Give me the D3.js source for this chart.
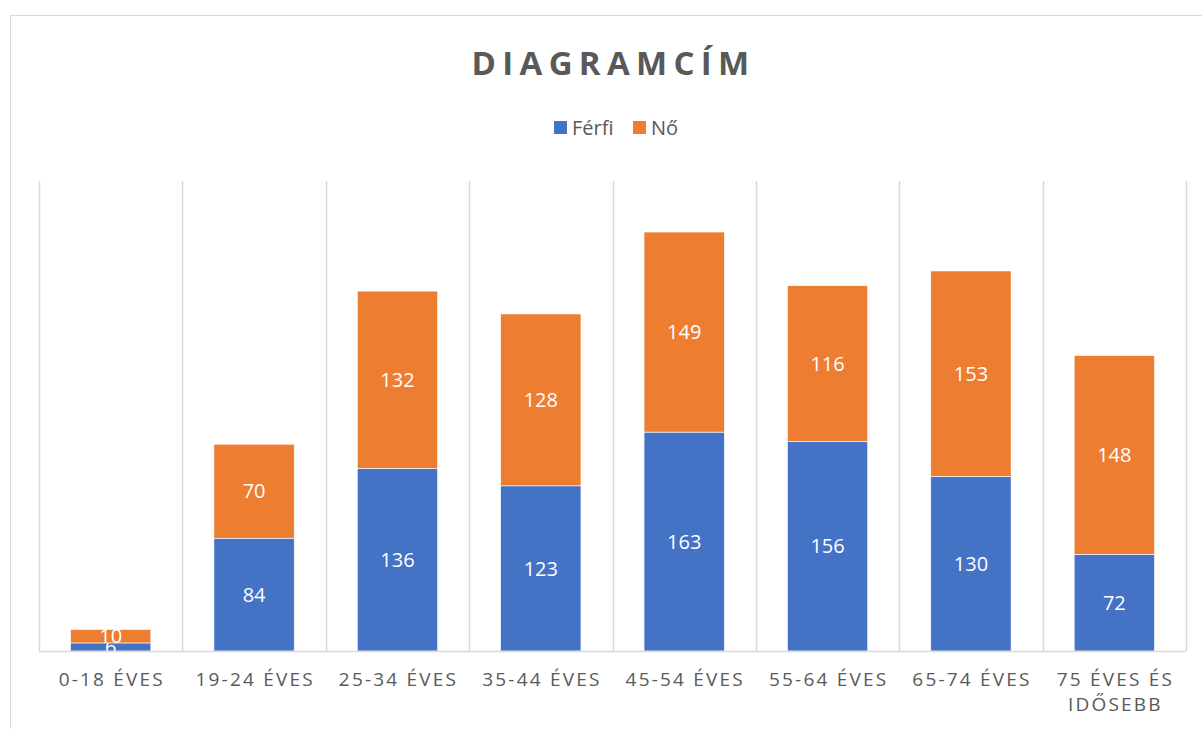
<!DOCTYPE html>
<html>
<head>
<meta charset="utf-8">
<script src="https://cdn.jsdelivr.net/npm/d3@7"></script>
<style>
  body { margin: 0; background: #fff; }
  text { font-family: "Open Sans", "Noto Sans", sans-serif; }
</style>
</head>
<body>
<div id="chart"></div>
<script>
var categories = ['0-18 ÉVES', '19-24 ÉVES', '25-34 ÉVES', '35-44 ÉVES', '45-54 ÉVES', '55-64 ÉVES', '65-74 ÉVES', '75 ÉVES ÉS IDŐSEBB'];
var ferfi = [6, 84, 136, 123, 163, 156, 130, 72];
var no = [10, 70, 132, 128, 149, 116, 153, 148];
var seriesNames = ['Férfi', 'Nő'];
var seriesColors = ['#4472c4', '#ed7d31'];

var width = 1202, height = 729;
var margin = {top: 181, right: 16, bottom: 78, left: 39};

var rows = categories.map(function(c, i) { return {cat: c, 'Férfi': ferfi[i], 'Nő': no[i]}; });
var stack = d3.stack().keys(seriesNames)(rows);

var svg = d3.select('#chart').append('svg').attr('width', width).attr('height', height);

// chart border
svg.append('rect')
  .attr('x', 10.5).attr('y', 15.5)
  .attr('width', 1230).attr('height', 760)
  .attr('fill', 'none').attr('stroke', '#d9d9d9');

var x = d3.scaleBand().domain(categories).range([margin.left, width - margin.right]).paddingInner(0).paddingOuter(0);
var y = d3.scaleLinear().domain([0, 350]).range([height - margin.bottom, margin.top]);
var barW = x.bandwidth() * 0.56;

// vertical gridlines at category boundaries
var bounds = categories.map(function(c) { return x(c); }).concat([x(categories[categories.length - 1]) + x.bandwidth()]);
svg.append('g').selectAll('line').data(bounds).enter().append('line')
  .attr('x1', (d) => Math.round(d) + 0.5).attr('x2', (d) => Math.round(d) + 0.5)
  .attr('y1', y(350)).attr('y2', y(0))
  .attr('stroke', '#d9d9d9').attr('stroke-width', 1.5);

// bars
var layers = svg.append('g').selectAll('g').data(stack).enter().append('g')
  .attr('fill', (d, i) => seriesColors[i]);
layers.selectAll('rect').data((d) => d).enter().append('rect')
  .attr('x', (d) => x(d.data.cat) + (x.bandwidth() - barW) / 2)
  .attr('y', (d) => y(d[1]))
  .attr('width', barW)
  .attr('height', (d) => y(d[0]) - y(d[1]))
  .attr('stroke', '#fff').attr('stroke-width', 0.6);

// axis line
svg.append('line')
  .attr('x1', margin.left).attr('x2', width - margin.right)
  .attr('y1', y(0) + 0.5).attr('y2', y(0) + 0.5)
  .attr('stroke', '#d9d9d9').attr('stroke-width', 1.5);

// data labels (the 0-18 pair overlaps in the original too)
layers.selectAll('text').data((d) => d).enter().append('text')
  .attr('x', (d) => x(d.data.cat) + x.bandwidth() / 2)
  .attr('y', (d) => (y(d[0]) + y(d[1])) / 2)
  .attr('dy', '0.36em')
  .attr('text-anchor', 'middle')
  .attr('fill', '#fff')
  .style('font-size', '20px')
  .text((d) => d[1] - d[0]);

// category labels
var catLines = {'75 ÉVES ÉS IDŐSEBB': ['75 ÉVES ÉS', 'IDŐSEBB']};
var catSpacing = 2.2;
var cats = svg.append('g').selectAll('text').data(categories).enter().append('text')
  .attr('y', 686)
  .attr('text-anchor', 'middle')
  .attr('fill', '#595959')
  .style('font-size', '19px')
  .style('letter-spacing', catSpacing + 'px');
cats.each(function(d) {
  var lines = catLines[d] || [d];
  var t = d3.select(this);
  lines.forEach(function(l, i) {
    t.append('tspan').attr('x', x(d) + x.bandwidth() / 2 + catSpacing / 2).attr('dy', i ? 25 : 0).text(l);
  });
});

// title
svg.append('text')
  .attr('x', 613.5).attr('y', 75)
  .attr('text-anchor', 'middle')
  .attr('fill', '#595959')
  .style('font-size', '33px').style('font-weight', 'bold').style('letter-spacing', '6.3px')
  .text('DIAGRAMCÍM');

// legend
var legend = svg.append('g');
var legX = [554, 633];
seriesNames.forEach(function(s, i) {
  legend.append('rect').attr('x', legX[i]).attr('y', 121).attr('width', 13).attr('height', 13).attr('fill', seriesColors[i]);
  legend.append('text').attr('x', legX[i] + 18).attr('y', 135)
    .attr('fill', '#595959').style('font-size', '20px').text(s);
});
</script>
</body>
</html>
